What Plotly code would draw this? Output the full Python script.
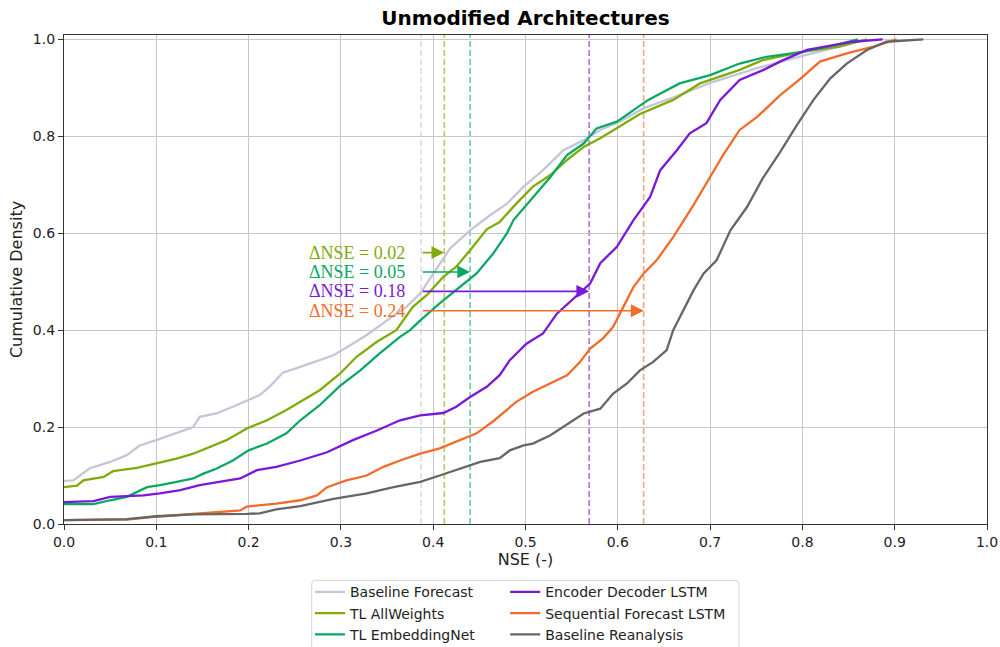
import plotly.graph_objects as go

# ---------------- data ----------------
names = ["Baseline Forecast", "TL AllWeights", "TL EmbeddingNet",
         "Encoder Decoder LSTM", "Sequential Forecast LSTM", "Baseline Reanalysis"]
colors = ["#c5c5da", "#7fab0b", "#0aa864", "#7a18d8", "#f26b2a", "#666666"]

bf_x = [0.0, 0.01, 0.028, 0.05, 0.068, 0.082, 0.10, 0.122, 0.14, 0.147, 0.165, 0.183, 0.198, 0.212,
        0.222, 0.237, 0.256, 0.277, 0.292, 0.31, 0.328, 0.35, 0.371, 0.386, 0.40, 0.418, 0.44, 0.4615,
        0.48, 0.498, 0.519, 0.541, 0.563, 0.581, 0.602, 0.628, 0.66, 0.70, 0.75, 0.80, 0.84, 0.86]
bf_y = [0.089, 0.090, 0.115, 0.128, 0.142, 0.162, 0.173, 0.187, 0.200, 0.221, 0.228, 0.242, 0.255, 0.266,
        0.282, 0.312, 0.324, 0.338, 0.348, 0.369, 0.390, 0.420, 0.448, 0.476, 0.517, 0.568, 0.606, 0.637,
        0.661, 0.696, 0.730, 0.771, 0.792, 0.813, 0.830, 0.858, 0.880, 0.910, 0.940, 0.966, 0.985, 1.0]

aw_x = [0.0, 0.014, 0.021, 0.043, 0.053, 0.079, 0.10, 0.122, 0.14, 0.158, 0.176, 0.198, 0.22, 0.241,
        0.256, 0.277, 0.299, 0.317, 0.339, 0.36, 0.378, 0.393, 0.411, 0.425, 0.44, 0.458, 0.472, 0.49,
        0.508, 0.527, 0.545, 0.563, 0.581, 0.602, 0.624, 0.66, 0.689, 0.732, 0.757, 0.80, 0.84, 0.87]
aw_y = [0.076, 0.079, 0.090, 0.097, 0.109, 0.116, 0.125, 0.135, 0.145, 0.159, 0.173, 0.197, 0.214, 0.235,
        0.252, 0.276, 0.310, 0.345, 0.376, 0.400, 0.448, 0.472, 0.510, 0.531, 0.565, 0.608, 0.623, 0.661,
        0.696, 0.720, 0.751, 0.778, 0.796, 0.820, 0.846, 0.875, 0.909, 0.937, 0.957, 0.974, 0.985, 1.0]

en_x = [0.0, 0.032, 0.05, 0.068, 0.09, 0.104, 0.122, 0.14, 0.151, 0.165, 0.183, 0.20, 0.22, 0.241,
        0.256, 0.277, 0.299, 0.321, 0.342, 0.364, 0.375, 0.386, 0.407, 0.429, 0.447, 0.465, 0.48, 0.487,
        0.508, 0.527, 0.545, 0.563, 0.577, 0.599, 0.617, 0.633, 0.667, 0.70, 0.732, 0.761, 0.80, 0.84, 0.86]
en_y = [0.041, 0.041, 0.049, 0.056, 0.076, 0.080, 0.087, 0.094, 0.104, 0.114, 0.131, 0.152, 0.166, 0.187,
        0.214, 0.245, 0.285, 0.317, 0.352, 0.386, 0.400, 0.420, 0.455, 0.489, 0.517, 0.558, 0.600, 0.627,
        0.675, 0.716, 0.761, 0.785, 0.816, 0.830, 0.854, 0.875, 0.909, 0.926, 0.950, 0.964, 0.974, 0.990, 1.0]

ed_x = [0.0, 0.032, 0.05, 0.086, 0.104, 0.126, 0.147, 0.169, 0.191, 0.209, 0.23, 0.256, 0.285, 0.313,
        0.339, 0.364, 0.386, 0.411, 0.425, 0.44, 0.458, 0.472, 0.483, 0.501, 0.519, 0.534, 0.552, 0.57,
        0.581, 0.599, 0.617, 0.635, 0.646, 0.664, 0.678, 0.696, 0.711, 0.732, 0.758, 0.779, 0.805, 0.855, 0.887]
ed_y = [0.045, 0.047, 0.056, 0.059, 0.063, 0.070, 0.080, 0.087, 0.094, 0.111, 0.118, 0.131, 0.148, 0.173,
        0.193, 0.214, 0.224, 0.229, 0.242, 0.262, 0.283, 0.307, 0.338, 0.372, 0.393, 0.434, 0.465, 0.496,
        0.538, 0.572, 0.627, 0.675, 0.730, 0.771, 0.806, 0.827, 0.875, 0.916, 0.937, 0.957, 0.978, 0.995, 1.0]

sf_x = [0.0, 0.068, 0.10, 0.14, 0.191, 0.198, 0.23, 0.256, 0.274, 0.285, 0.306, 0.328, 0.346, 0.364,
        0.386, 0.407, 0.429, 0.447, 0.465, 0.49, 0.508, 0.527, 0.545, 0.559, 0.57, 0.584, 0.595, 0.606,
        0.617, 0.628, 0.642, 0.66, 0.682, 0.70, 0.714, 0.732, 0.751, 0.776, 0.798, 0.819, 0.848, 0.877, 0.902]
sf_y = [0.008, 0.009, 0.015, 0.021, 0.028, 0.036, 0.042, 0.049, 0.059, 0.076, 0.090, 0.100, 0.118, 0.131,
        0.145, 0.156, 0.173, 0.187, 0.212, 0.252, 0.273, 0.290, 0.307, 0.334, 0.362, 0.383, 0.407, 0.448,
        0.489, 0.517, 0.544, 0.592, 0.658, 0.716, 0.761, 0.813, 0.840, 0.885, 0.919, 0.954, 0.971, 0.985, 1.0]

br_x = [0.0, 0.068, 0.10, 0.14, 0.198, 0.212, 0.23, 0.256, 0.292, 0.328, 0.357, 0.386, 0.407, 0.429,
        0.451, 0.472, 0.483, 0.498, 0.508, 0.527, 0.541, 0.552, 0.563, 0.581, 0.595, 0.61, 0.624, 0.638,
        0.653, 0.66, 0.671, 0.682, 0.693, 0.707, 0.722, 0.74, 0.757, 0.776, 0.794, 0.812, 0.83, 0.848,
        0.87, 0.891, 0.931]
br_y = [0.008, 0.010, 0.016, 0.020, 0.021, 0.022, 0.030, 0.037, 0.052, 0.063, 0.076, 0.087, 0.100, 0.114,
        0.128, 0.136, 0.152, 0.162, 0.166, 0.183, 0.200, 0.214, 0.228, 0.238, 0.269, 0.290, 0.317, 0.334,
        0.359, 0.400, 0.441, 0.482, 0.517, 0.544, 0.606, 0.654, 0.713, 0.768, 0.823, 0.875, 0.919, 0.950,
        0.978, 0.995, 1.0]

series_x = [bf_x, aw_x, en_x, ed_x, sf_x, br_x]
series_y = [bf_y, aw_y, en_y, ed_y, sf_y, br_y]

# medians (dashed lines) for the first five series
medians = [0.387, 0.412, 0.440, 0.569, 0.628]
delta_nse = [0.02, 0.05, 0.18, 0.24]
arrow_levels = [0.56, 0.52, 0.48, 0.44]
label_x = 0.372

x_ticks = [0.0, 0.1, 0.2, 0.3, 0.4, 0.5, 0.6, 0.7, 0.8, 0.9, 1.0]
y_ticks = [0.0, 0.2, 0.4, 0.6, 0.8, 1.0]

# ---------------- figure ----------------
fig = go.Figure()

for i, (xs, ys) in enumerate(zip(series_x, series_y)):
    fig.add_trace(go.Scatter(
        x=xs, y=ys, mode="lines", name=names[i],
        line=dict(color=colors[i], width=2.3),
        legend="legend" if i < 3 else "legend2",
        hoverinfo="skip",
    ))

for m, c in zip(medians, colors):
    fig.add_shape(type="line", xref="x", yref="paper", x0=m, x1=m, y0=0, y1=1,
                  line=dict(color=c, width=1.6, dash="6px,3px"), opacity=0.6, layer="between")

for m, yl, d, c in zip(medians[1:], arrow_levels, delta_nse, colors[1:5]):
    fig.add_annotation(x=m, y=yl, ax=medians[0], ay=yl, xref="x", yref="y", axref="x", ayref="y",
                       showarrow=True, arrowhead=2, arrowsize=1.6, arrowwidth=1.6, arrowcolor=c,
                       text="", standoff=0)
    fig.add_annotation(x=label_x, y=yl, xref="x", yref="y", text=f"ΔNSE = {d:.2f}",
                       showarrow=False, xanchor="right", yanchor="middle",
                       font=dict(family="Liberation Serif", size=18, color=c))

# legend frame (rounded corners, extends past the bottom edge as in the reference)
x0f, x1f, y0f, y1f, r = 0.2684, 0.7313, -0.1152, -0.27, 0.004
ry = r * 923 / 488.7
frame_path = (f"M {x0f + r},{y0f} L {x1f - r},{y0f} Q {x1f},{y0f} {x1f},{y0f - ry} "
              f"L {x1f},{y1f} L {x0f},{y1f} L {x0f},{y0f - ry} Q {x0f},{y0f} {x0f + r},{y0f} Z")
fig.add_shape(type="path", xref="paper", yref="paper", path=frame_path,
              line=dict(color="#d4d4d4", width=1), fillcolor="rgba(0,0,0,0)", layer="above")

axis_common = dict(
    showgrid=True, gridcolor="#c8c8c8", gridwidth=1,
    showline=True, linecolor="#333333", linewidth=1.3, mirror=True,
    ticks="outside", ticklen=5, tickwidth=1.2, tickcolor="#333333",
    tickfont=dict(size=14, color="#222222"), zeroline=False, tickformat=".1f",
)

fig.update_layout(
    width=1000, height=647, autosize=False,
    margin=dict(l=64, r=13, t=35, b=123, autoexpand=False),
    paper_bgcolor="white", plot_bgcolor="white",
    font=dict(family="DejaVu Sans", color="#222222"),
    title=dict(text="<b>Unmodified Architectures</b>", x=0.5, xref="paper", xanchor="center",
               y=1 - 18 / 647, yanchor="middle", font=dict(size=20, color="black")),
    xaxis=dict(range=[0, 1], tickvals=x_ticks, automargin=False,
               title=dict(text="NSE (-)", font=dict(size=16), standoff=2), **axis_common),
    yaxis=dict(range=[0, 1.0089], tickvals=y_ticks, automargin=False,
               title=dict(text="Cumulative Density", font=dict(size=16), standoff=6), **axis_common),
    legend=dict(x=0.2665, y=-0.107, xanchor="left", yanchor="top", orientation="v",
                font=dict(size=14, color="#222222"), bgcolor="rgba(0,0,0,0)", borderwidth=0,
                tracegroupgap=0),
    legend2=dict(x=0.478, y=-0.107, xanchor="left", yanchor="top", orientation="v",
                 font=dict(size=14, color="#222222"), bgcolor="rgba(0,0,0,0)", borderwidth=0,
                 tracegroupgap=0),
    showlegend=True,
)

fig.write_html("out.html")
